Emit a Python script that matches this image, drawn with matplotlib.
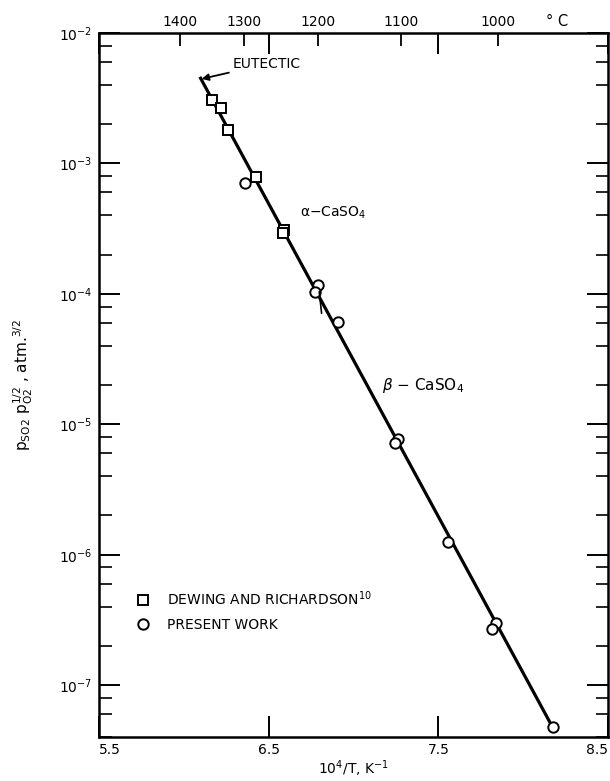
import numpy as np
import matplotlib.pyplot as plt
from matplotlib.ticker import LogLocator, NullFormatter, FixedLocator, NullLocator

plt.rcParams['font.family'] = ['DejaVu Sans']
plt.rcParams['mathtext.default'] = 'regular'

# Dewing and Richardson (squares)
dr_x = [6.164, 6.217, 6.262, 6.425, 6.592, 6.582]
dr_p = [3.07e-3, 2.65e-3, 1.81e-3, 7.94e-4, 3.10e-4, 2.92e-4]
# present work (circles)
pw_x = [6.360, 6.790, 6.773, 6.908, 7.262, 7.244, 7.558, 7.839, 7.819, 8.174]
pw_p = [7.1e-4, 1.16e-4, 1.04e-4, 6.13e-5, 7.65e-6, 7.13e-6, 1.25e-6, 3.02e-7, 2.68e-7, 4.74e-8]
# drawn line, eutectic down to lowest point
fit_x = [6.099, 8.174]
fit_p = [4.5e-3, 4.74e-8]

x_ticks = [5.5, 6.5, 7.5, 8.5]
temps_c = [1400, 1300, 1200, 1100, 1000]

fig = plt.figure(figsize=(6.1, 7.81), dpi=100)
ax = fig.add_axes([0.1623, 0.0563, 0.8344, 0.9014])

ax.plot(fit_x, fit_p, color='black', lw=2.3, zorder=2)
sq, = ax.plot(dr_x, dr_p, 's', ms=7, mfc='white', mec='black', mew=1.4, zorder=3,
              label='DEWING AND RICHARDSON$^{10}$')
ci, = ax.plot(pw_x, pw_p, 'o', ms=7.5, mfc='white', mec='black', mew=1.4, zorder=3,
              label='PRESENT WORK')

ax.set_yscale('log')
ax.set_xlim(5.5, 8.5)
ax.set_ylim(4e-8, 1e-2)

# temperature scale on top
top = ax.twiny()
top.set_xlim(ax.get_xlim())
top.set_xticks([1e4 / (t + 273.15) for t in temps_c])
top.set_xticklabels([str(t) for t in temps_c])
top.xaxis.set_minor_locator(NullLocator())
top.tick_params(axis='x', direction='in', length=9, width=1.3, labelsize=10, pad=3)
for s in top.spines.values():
    s.set_visible(False)
ax.text(0.90, 1.006, '\u00b0 C', transform=ax.transAxes, ha='center', va='bottom', fontsize=10.5)

ax.xaxis.set_major_locator(FixedLocator(x_ticks))
ax.xaxis.set_minor_locator(NullLocator())
ax.set_xticklabels([str(v) for v in x_ticks])
ax.yaxis.set_major_locator(LogLocator(base=10, numticks=20))
ax.yaxis.set_minor_locator(LogLocator(base=10, subs=(2, 4, 6, 8), numticks=20))
ax.yaxis.set_minor_formatter(NullFormatter())

ax.tick_params(which='major', direction='in', length=15, width=1.4, labelsize=10,
               top=True, right=True, labeltop=False, labelright=False, pad=4)
ax.tick_params(axis='y', which='major', pad=5)
ax.tick_params(axis='y', which='minor', direction='in', length=9, width=1.2,
               left=True, right=True)
labs = ax.get_xticklabels()
labs[0].set_ha('left')
labs[-1].set_ha('right')

for s in ax.spines.values():
    s.set_linewidth(1.8)

ax.set_xlabel('10$^4$/T, K$^{-1}$', fontsize=10, labelpad=1)
ax.set_ylabel(r'$p_{SO2}\ p_{O2}^{1/2}$ , atm.$^{3/2}$', fontsize=11)
ax.yaxis.set_label_coords(-0.125, 0.5)

ax.annotate('EUTECTIC', xy=(6.105, 4.45e-3), xytext=(6.29, 5.8e-3), fontsize=10,
            va='center', ha='left',
            arrowprops=dict(arrowstyle='-|>', color='black', lw=1.3, mutation_scale=10,
                            shrinkA=1, shrinkB=0))
ax.text(6.684, 4.2e-4, r'$\alpha$$-$CaSO$_4$', fontsize=10, va='center', ha='left')
ax.text(7.168, 2.0e-5, r'$\mathit{\beta}$ $-$ CaSO$_4$', fontsize=11, va='center', ha='left')
# alpha/beta transition mark
ax.annotate('', xy=(6.798, 1.04e-4), xytext=(6.812, 7.1e-5),
            arrowprops=dict(arrowstyle='-', color='black', lw=1.2, shrinkA=0, shrinkB=0))

ax.legend(handles=[sq, ci], loc='upper left', bbox_to_anchor=(0.073, 0.21),
          frameon=False, fontsize=10, handlelength=1.0, handletextpad=1.2,
          labelspacing=0.75, borderpad=0, borderaxespad=0)

fig.savefig('out.png', dpi=100)
